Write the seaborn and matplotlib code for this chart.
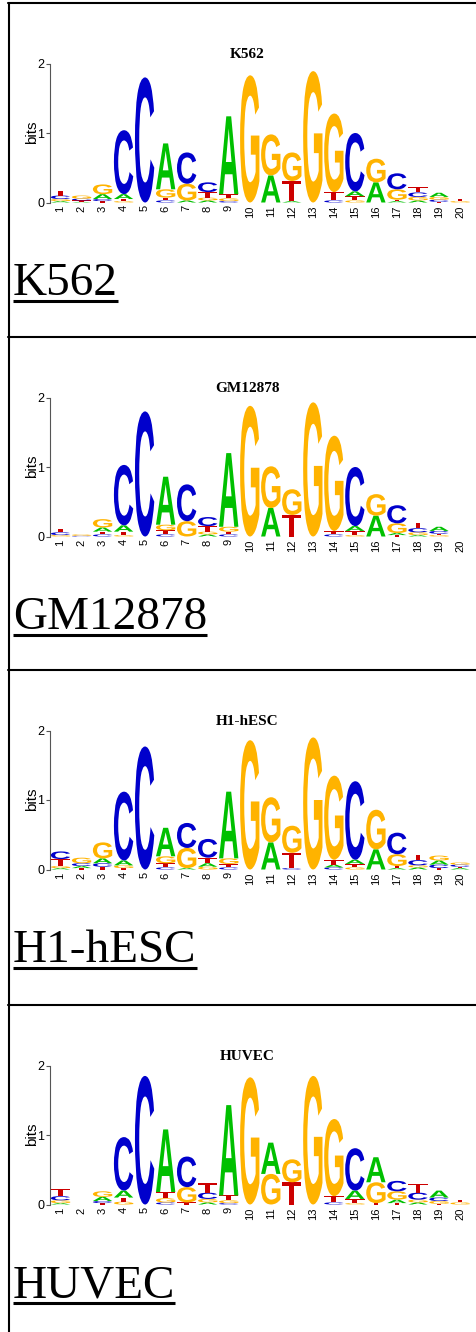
import numpy as np
import matplotlib
matplotlib.use("Agg")
import matplotlib.pyplot as plt
import seaborn as sns
from matplotlib.textpath import TextPath
from matplotlib.patches import PathPatch
from matplotlib.font_manager import FontProperties
from matplotlib.transforms import Affine2D
from matplotlib.lines import Line2D

# motif positions and cell lines
positions = np.arange(1, 21)
cell_lines = ["K562", "GM12878", "H1-hESC", "HUVEC"]

# information content (bits) of each base per position
k562_a = [.02, .01, .07, .07, 0, .66, .03, .03, 1.12, 0, .39, .02, 0, 0, .07, .29, .02, .03, .06, 0]
k562_c = [.05, .025, .03, .92, 1.80, .03, .45, .14, .02, 0, 0, 0, 0, .03, .84, 0, .23, .065, .03, 0]
k562_g = [.03, .045, .14, .02, 0, .12, .24, .04, .04, 1.83, .59, .41, 1.89, 1.13, .03, .34, .15, .05, .04, .02]
k562_t = [.07, .02, .02, .03, 0, .04, 0, .08, .06, 0, 0, .29, 0, .12, .06, 0, .02, .075, .01, .03]

gm_a = [0, 0, .06, .09, 0, .69, 0, .03, 1.06, 0, .41, 0, 0, 0, .07, .30, .03, .02, .06, 0]
gm_c = [.04, .01, .03, .87, 1.80, .03, .53, .13, .03, 0, 0, 0, 0, .03, .85, 0, .26, .06, .04, 0]
gm_g = [.02, .02, .12, .02, 0, .08, .22, .04, .07, 1.88, .60, .37, 1.93, 1.37, .02, .31, .14, .04, .02, 0]
gm_t = [.05, 0, .04, .05, 0, .06, 0, .08, .04, 0, 0, .31, 0, .05, .06, 0, .02, .08, .02, 0]

h1_a = [.02, .03, .07, .07, 0, .41, .02, .05, .96, 0, .39, 0, 0, .04, .06, .29, .02, .03, .06, .02]
h1_c = [.11, .04, .05, .99, 1.77, .03, .36, .27, .03, 0, 0, .02, 0, .03, 1.13, 0, .31, .075, .05, .03]
h1_g = [.03, .08, .23, .04, 0, .10, .29, .04, .08, 1.86, .65, .39, 1.90, 1.21, .03, .57, .17, .03, .07, .03]
h1_t = [.10, .02, .04, .02, 0, .06, 0, .08, .05, 0, 0, .22, 0, .07, .05, 0, .03, .08, .02, .02]

huvec_a = [.02, 0, .06, .10, 0, .90, 0, .03, 1.30, 0, .45, 0, 0, 0, .12, .36, .05, .03, .10, 0]
huvec_c = [.06, 0, .03, .77, 1.85, .03, .44, .09, .02, 0, 0, 0, 0, .03, .61, 0, .15, .10, .05, 0]
huvec_g = [.04, 0, .08, .04, 0, .06, .22, .05, .04, 1.83, .44, .33, 1.85, 1.11, .02, .30, .12, .04, .04, .03]
huvec_t = [.10, 0, .02, .06, 0, .09, .03, .14, .07, 0, 0, .32, 0, .09, .06, .02, .02, .13, .01, .04]

panel_data = [
    {"A": k562_a, "C": k562_c, "G": k562_g, "T": k562_t},
    {"A": gm_a, "C": gm_c, "G": gm_g, "T": gm_t},
    {"A": h1_a, "C": h1_c, "G": h1_g, "T": h1_t},
    {"A": huvec_a, "C": huvec_c, "G": huvec_g, "T": huvec_t},
]

logo_colors = {"A": "#00c000", "C": "#0000cc", "G": "#ffb300", "T": "#cc0000"}

sns.set_style("white")
plt.rcParams["font.family"] = ["Liberation Sans", "DejaVu Sans"]

W, H = 477, 1332
fig = plt.figure(figsize=(W / 100, H / 100), dpi=100)

letter_font = FontProperties(family="Liberation Sans", weight="bold")
glyphs = {b: TextPath((0, 0), b, size=1, prop=letter_font) for b in "ACGT"}


def draw_letter(ax, base, x, y0, h, width=0.92):
    # scale the glyph outline so it fills its box exactly
    path = glyphs[base]
    ext = path.get_extents()
    tr = (Affine2D().translate(-ext.x0, -ext.y0)
          .scale(width / ext.width, h / ext.height)
          .translate(x - width / 2, y0))
    ax.add_patch(PathPatch(tr.transform_path(path), fc=logo_colors[base],
                           ec="none", lw=0, clip_on=False))


cell_tops = [3, 337, 670, 1005]

for name, data, top in zip(cell_lines, panel_data, cell_tops):
    ax = fig.add_axes([50 / W, 1 - (top + 199.5) / H, 420.5 / W, 139 / H])
    for i, pos in enumerate(positions):
        stack = sorted((data[b][i], b) for b in "ACGT")
        y = 0.0
        for h, b in stack:
            if h > 0:
                draw_letter(ax, b, pos, y, h)
                y += h
    ax.set_xlim(0.5, 20.5)
    ax.set_ylim(0, 2)
    ax.set_xticks(positions)
    ax.set_xticklabels([str(p) for p in positions], rotation=90, fontsize=8)
    ax.set_yticks([0, 1, 2])
    ax.set_yticklabels(["0", "1", "2"], fontsize=9)
    sns.despine(ax=ax, top=True, right=True, bottom=True)
    ax.spines["left"].set_color("#555555")
    ax.spines["left"].set_linewidth(0.8)
    ax.tick_params(axis="y", left=True, length=3, width=0.8, pad=1, colors="#555555", labelcolor="black")
    ax.tick_params(axis="x", length=0, pad=2, labelcolor="black")
    ax.patch.set_alpha(0)

    fig.text(32 / W, 1 - (top + 129.5) / H, "bits", rotation=90, fontsize=11,
             ha="center", va="center", color="black")
    fig.text(247 / W, 1 - (top + 55) / H, name, fontsize=11, family="Liberation Serif",
             weight="bold", ha="center", va="baseline", color="black")
    label = fig.text(13 / W, 1 - (top + 292) / H, name, fontsize=34, family="Liberation Serif",
                     ha="left", va="baseline", color="black")
    bb = label.get_window_extent(fig.canvas.get_renderer())
    uy = 1 - (top + 297.5) / H
    fig.add_artist(Line2D([bb.x0 / W, bb.x1 / W], [uy, uy], transform=fig.transFigure,
                          color="black", lw=2.2, solid_capstyle="butt"))

# table borders
for top in cell_tops:
    fig.add_artist(Line2D([8 / W, 1], [1 - top / H] * 2, transform=fig.transFigure,
                          color="black", lw=1.5))
fig.add_artist(Line2D([9 / W, 9 / W], [1 - 3 / H, 0], transform=fig.transFigure,
                      color="black", lw=1.5))

fig.savefig("out.png", dpi=100)
